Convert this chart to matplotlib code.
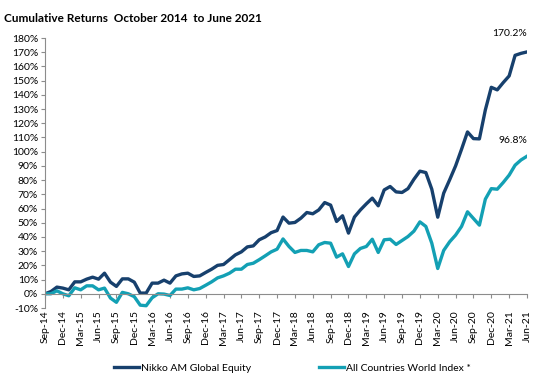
import matplotlib
matplotlib.use("Agg")
import matplotlib.pyplot as plt
import numpy as np
import pandas as pd

plt.rcParams['font.family'] = ['Lato', 'DejaVu Sans']

months = pd.date_range("2014-09-01", "2021-06-01", freq="MS")
tick_labels = [d.strftime("%b-%y") for d in months[::3]]

nikko = [0, 1.6, 4.7, 4, 2.8, 8.4, 8.4, 10.3, 11.7, 10.3,
         14.5, 8.2, 5.2, 10.5, 10.5, 8.2, 0.5, 0.5, 7.5, 7.5,
         9.6, 7.5, 12.6, 14, 14.5, 12.2, 12.6, 15, 17.3, 20,
         20.6, 24, 27.4, 29.5, 33, 33.7, 38, 40, 43, 44.5,
         54, 49.7, 50.2, 53.2, 57.2, 56.3, 59, 64.2, 62.4, 50.9,
         54.9, 42.7, 54, 59, 63.3, 67.3, 61.9, 73.1, 75.5, 71.7,
         71.3, 74, 80.6, 86.3, 85.3, 73.6, 53.9, 70.8, 80.2, 90,
         101.7, 113.9, 109.2, 109, 129.4, 145.3, 143.5, 148.6, 153.3, 167.8,
         169.2, 170.2]
acwi = [0, 0, 2.1, 0, -1.4, 4.2, 2.8, 5.6, 5.6, 2.8,
        4, -3, -6, 1, 0, -2, -8, -8.4, -2.8, 0,
        -0.2, -1.2, 3.3, 3.3, 4.2, 2.8, 3.7, 6, 8.4, 11.2,
        12.6, 14.5, 17.3, 17.3, 20.6, 21.5, 24, 26.7, 29.5, 31.4,
        38.6, 33.3, 29.1, 30.5, 30.5, 29.5, 34.5, 36.1, 35.6, 25.8,
        28.1, 19.2, 28.1, 31.9, 33.3, 38.4, 29.1, 38, 38.4, 34.7,
        37.5, 40.3, 44.1, 50.6, 47.4, 35.6, 17.8, 30.5, 36.6, 41.3,
        47.4, 57.7, 53, 48.3, 66.6, 74, 73.6, 78.3, 83.5, 90.5,
        94.2, 96.8]

dark = "#17406d"
teal = "#13a0b4"

fig = plt.figure(figsize=(5.44, 3.80), dpi=100)
ax = fig.add_axes([45/544, 1-308/380, 482/544, 270/380])

# x axis sits on the 0% line (set this before the tick labels, it resets them)
ax.spines["bottom"].set_position(("data", 0))
ax.spines["top"].set_visible(False)
ax.spines["right"].set_visible(False)
for s in ("left", "bottom"):
    ax.spines[s].set_color("#8c8c8c")
    ax.spines[s].set_linewidth(0.8)

x = np.arange(len(months))
ax.plot(x, nikko, color=dark, lw=2.4, label="Nikko AM Global Equity")
ax.plot(x, acwi, color=teal, lw=2.4, label="All Countries World Index *")

ax.set_xlim(0, len(months) - 1)
ax.set_ylim(-10, 180)
ax.set_yticks(np.arange(-10, 181, 10))
ax.set_yticklabels([f"{v}%" for v in range(-10, 181, 10)], fontsize=7.5)

ax.set_xticks(x[::3])
ax.set_xticklabels(tick_labels, rotation=90, fontsize=7.5)
ax.tick_params(axis="x", length=3, color="#8c8c8c", pad=9)
ax.tick_params(axis="y", length=3, color="#8c8c8c", pad=2)

ax.annotate(f"{nikko[-1]}%", (x[-1], nikko[-1]), xytext=(0, 13),
            textcoords="offset points", ha="right", va="center", fontsize=7.5)
ax.annotate(f"{acwi[-1]}%", (x[-1], acwi[-1]), xytext=(0, 11),
            textcoords="offset points", ha="right", va="center", fontsize=7.5)

fig.text(4/544, 1-18/380, "Cumulative Returns  October 2014  to June 2021",
         fontsize=8.5, fontweight="bold", va="center", ha="left")

fig.legend(loc="center", bbox_to_anchor=(0.537, 1-368/380), ncol=2, frameon=False,
           fontsize=7.5, handlelength=2.4, handletextpad=0.2, columnspacing=6.5)

fig.savefig("out.png", dpi=100)
